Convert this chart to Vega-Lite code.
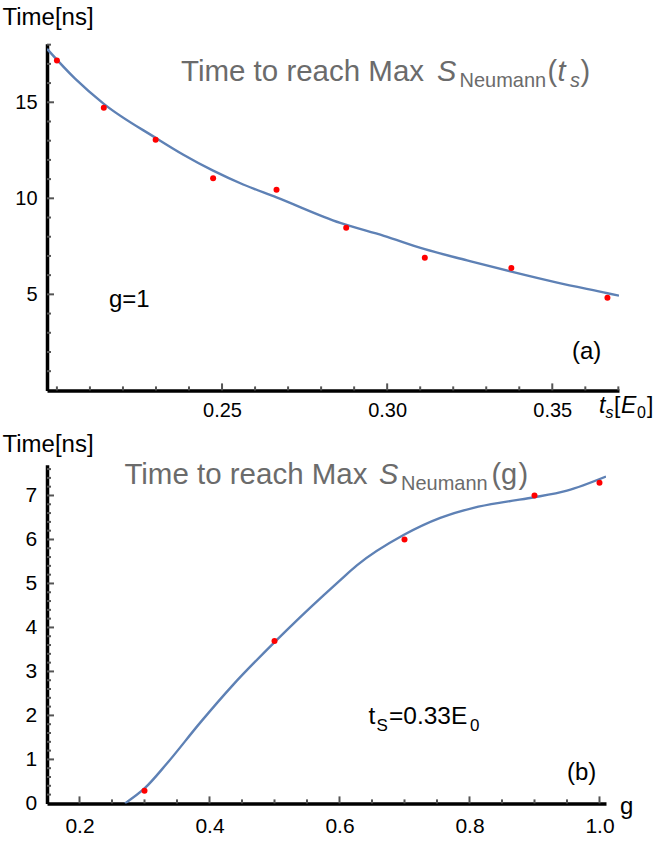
{
  "$schema": "https://vega.github.io/schema/vega-lite/v6.json",
  "background": "white",
  "padding": {"left": 2, "top": 5.7, "right": 0, "bottom": 0},
  "config": {"view": {"stroke": null}, "font": "Liberation Sans", "axis": {"grid": false, "domainWidth": 3.5, "domainColor": "black"}},
  "datasets": {
    "pointsA": [
      {"t": 0.2, "time": 17.18}, {"t": 0.2142, "time": 14.71}, {"t": 0.2299, "time": 13.05},
      {"t": 0.2473, "time": 11.04}, {"t": 0.2665, "time": 10.44}, {"t": 0.2876, "time": 8.47},
      {"t": 0.3114, "time": 6.91}, {"t": 0.3376, "time": 6.37}, {"t": 0.3667, "time": 4.82}
    ],
    "curveA": [
      {"t": 0.197, "time": 17.78}, {"t": 0.2055, "time": 16.23}, {"t": 0.2142, "time": 14.92},
      {"t": 0.2299, "time": 13.15}, {"t": 0.2383, "time": 12.27}, {"t": 0.2473, "time": 11.44},
      {"t": 0.2564, "time": 10.72}, {"t": 0.2665, "time": 10.05}, {"t": 0.2858, "time": 8.72},
      {"t": 0.299, "time": 8.05}, {"t": 0.3114, "time": 7.35}, {"t": 0.3242, "time": 6.77},
      {"t": 0.3376, "time": 6.18}, {"t": 0.3515, "time": 5.61}, {"t": 0.3667, "time": 5.06},
      {"t": 0.3702, "time": 4.93}
    ],
    "pointsB": [
      {"g": 0.3, "time": 0.29}, {"g": 0.5, "time": 3.69}, {"g": 0.7, "time": 6.0},
      {"g": 0.9, "time": 7.0}, {"g": 1.0, "time": 7.29}
    ],
    "curveB": [
      {"g": 0.27, "time": 0}, {"g": 0.3008, "time": 0.35}, {"g": 0.3341, "time": 0.9},
      {"g": 0.3854, "time": 1.83}, {"g": 0.4366, "time": 2.7}, {"g": 0.4997, "time": 3.66},
      {"g": 0.5392, "time": 4.23}, {"g": 0.5754, "time": 4.73}, {"g": 0.6008, "time": 5.07},
      {"g": 0.6267, "time": 5.41}, {"g": 0.6985, "time": 6.1}, {"g": 0.755, "time": 6.49},
      {"g": 0.8062, "time": 6.72}, {"g": 0.8574, "time": 6.86}, {"g": 0.9, "time": 6.96},
      {"g": 0.95, "time": 7.11}, {"g": 1.01, "time": 7.43}
    ],
    "ticksAxMinor": [{"v": 0.2}, {"v": 0.21}, {"v": 0.22}, {"v": 0.23}, {"v": 0.24}, {"v": 0.26}, {"v": 0.27}, {"v": 0.28}, {"v": 0.29}, {"v": 0.31}, {"v": 0.32}, {"v": 0.33}, {"v": 0.34}, {"v": 0.36}, {"v": 0.37}],
    "ticksAxMajor": [{"v": 0.25}, {"v": 0.3}, {"v": 0.35}],
    "ticksAyMinor": [{"v": 1}, {"v": 2}, {"v": 3}, {"v": 4}, {"v": 6}, {"v": 7}, {"v": 8}, {"v": 9}, {"v": 11}, {"v": 12}, {"v": 13}, {"v": 14}, {"v": 16}, {"v": 17}, {"v": 18}],
    "ticksAyMajor": [{"v": 5}, {"v": 10}, {"v": 15}],
    "ticksBxMinor": [{"v": 0.25}, {"v": 0.3}, {"v": 0.35}, {"v": 0.45}, {"v": 0.5}, {"v": 0.55}, {"v": 0.65}, {"v": 0.7}, {"v": 0.75}, {"v": 0.85}, {"v": 0.9}, {"v": 0.95}],
    "ticksBxMajor": [{"v": 0.2}, {"v": 0.4}, {"v": 0.6}, {"v": 0.8}, {"v": 1.0}],
    "ticksByMinor": [{"v": 0.2}, {"v": 0.4}, {"v": 0.6}, {"v": 0.8}, {"v": 1.2}, {"v": 1.4}, {"v": 1.6}, {"v": 1.8}, {"v": 2.2}, {"v": 2.4}, {"v": 2.6}, {"v": 2.8}, {"v": 3.2}, {"v": 3.4}, {"v": 3.6}, {"v": 3.8}, {"v": 4.2}, {"v": 4.4}, {"v": 4.6}, {"v": 4.8}, {"v": 5.2}, {"v": 5.4}, {"v": 5.6}, {"v": 5.8}, {"v": 6.2}, {"v": 6.4}, {"v": 6.6}, {"v": 6.8}, {"v": 7.2}, {"v": 7.4}, {"v": 7.6}],
    "ticksByMajor": [{"v": 1}, {"v": 2}, {"v": 3}, {"v": 4}, {"v": 5}, {"v": 6}, {"v": 7}]
  },
  "bounds": "flush",
  "spacing": 74,
  "vconcat": [
    {
      "width": 572,
      "height": 346.7,
      "resolve": {"axis": {"x": "independent", "y": "independent"}},
      "layer": [
        {
          "data": {"name": "curveA"},
          "mark": {"type": "line", "interpolate": "monotone", "color": "#5E81B5", "strokeWidth": 2.4, "clip": true},
          "encoding": {
            "x": {"field": "t", "type": "quantitative",
              "scale": {"domain": [0.197, 0.3702], "nice": false, "zero": false},
              "axis": {
                "orient": "bottom", "values": [0.25, 0.3, 0.35], "format": ".2f",
                "ticks": false, "tickSize": 0,
                "domain": true, "domainColor": "black", "domainWidth": 3.5,
                "labelPadding": 10, "labelFontSize": 20, "labelFont": "Liberation Sans", "labelColor": "black",
                "labelOverlap": false, "labelFlush": false, "labelBound": false,
                "title": null, "grid": false
              }
            },
            "y": {"field": "time", "type": "quantitative",
              "scale": {"domain": [0, 18.05], "nice": false, "zero": false},
              "axis": {
                "orient": "left", "values": [5, 10, 15], "format": "d",
                "ticks": false, "tickSize": 0,
                "domain": true, "domainColor": "black", "domainWidth": 3.5,
                "labelPadding": 10, "labelFontSize": 20, "labelFont": "Liberation Sans", "labelColor": "black",
                "labelOverlap": false, "labelFlush": false, "labelBound": false,
                "title": "Time[ns]", "titleAngle": 0, "titleAlign": "left", "titleBaseline": "top",
                "titleX": -45, "titleY": -37.8, "titleFontSize": 24, "titleFontWeight": "normal",
                "titleFont": "Liberation Sans", "titleColor": "black", "grid": false
              }
            }
          }
        },
        {"data": {"name": "ticksAyMinor"}, "mark": {"type": "tick", "orient": "horizontal", "size": 4, "thickness": 2, "color": "#555555", "opacity": 1, "xOffset": 2},
          "encoding": {"x": {"datum": 0.197, "type": "quantitative", "scale": {"domain": [0.197, 0.3702], "nice": false, "zero": false}, "axis": null},
                       "y": {"field": "v", "type": "quantitative", "scale": {"domain": [0, 18.05], "nice": false, "zero": false}, "axis": null}}},
        {"data": {"name": "ticksAyMajor"}, "mark": {"type": "tick", "orient": "horizontal", "size": 7, "thickness": 2, "color": "#555555", "opacity": 1, "xOffset": 3.5},
          "encoding": {"x": {"datum": 0.197, "type": "quantitative", "scale": {"domain": [0.197, 0.3702], "nice": false, "zero": false}, "axis": null},
                       "y": {"field": "v", "type": "quantitative", "scale": {"domain": [0, 18.05], "nice": false, "zero": false}, "axis": null}}},
        {"data": {"name": "ticksAxMinor"}, "mark": {"type": "tick", "orient": "vertical", "size": 4, "thickness": 2, "color": "#555555", "opacity": 1, "yOffset": -2},
          "encoding": {"x": {"field": "v", "type": "quantitative", "scale": {"domain": [0.197, 0.3702], "nice": false, "zero": false}, "axis": null},
                       "y": {"datum": 0, "type": "quantitative", "scale": {"domain": [0, 18.05], "nice": false, "zero": false}, "axis": null}}},
        {"data": {"name": "ticksAxMajor"}, "mark": {"type": "tick", "orient": "vertical", "size": 7, "thickness": 2, "color": "#555555", "opacity": 1, "yOffset": -3.5},
          "encoding": {"x": {"field": "v", "type": "quantitative", "scale": {"domain": [0.197, 0.3702], "nice": false, "zero": false}, "axis": null},
                       "y": {"datum": 0, "type": "quantitative", "scale": {"domain": [0, 18.05], "nice": false, "zero": false}, "axis": null}}},
        {
          "data": {"name": "pointsA"},
          "mark": {"type": "point", "filled": true, "color": "#FF0000", "size": 36, "opacity": 1},
          "encoding": {
            "x": {"field": "t", "type": "quantitative", "scale": {"domain": [0.197, 0.3702], "nice": false, "zero": false}, "axis": null},
            "y": {"field": "time", "type": "quantitative", "scale": {"domain": [0, 18.05], "nice": false, "zero": false}, "axis": null}
          }
        },
        {"data": {"values": [{}]}, "mark": {"type": "text", "text": "Time to reach Max", "align": "left", "baseline": "alphabetic", "fontSize": 29.5, "color": "#6b6b6b"},
          "encoding": {"x": {"datum": 0.23757, "type": "quantitative", "scale": {"domain": [0.197, 0.3702], "nice": false, "zero": false}, "axis": null},
                       "y": {"datum": 16.113, "type": "quantitative", "scale": {"domain": [0, 18.05], "nice": false, "zero": false}, "axis": null}}},
        {"data": {"values": [{}]}, "mark": {"type": "text", "text": "S", "align": "left", "baseline": "alphabetic", "fontSize": 29, "fontStyle": "italic", "color": "#6b6b6b"},
          "encoding": {"x": {"datum": 0.31509, "type": "quantitative", "scale": {"domain": [0.197, 0.3702], "nice": false, "zero": false}, "axis": null},
                       "y": {"datum": 16.113, "type": "quantitative", "scale": {"domain": [0, 18.05], "nice": false, "zero": false}, "axis": null}}},
        {"data": {"values": [{}]}, "mark": {"type": "text", "text": "Neumann", "align": "left", "baseline": "alphabetic", "fontSize": 20, "color": "#6b6b6b"},
          "encoding": {"x": {"datum": 0.32191, "type": "quantitative", "scale": {"domain": [0.197, 0.3702], "nice": false, "zero": false}, "axis": null},
                       "y": {"datum": 15.801, "type": "quantitative", "scale": {"domain": [0, 18.05], "nice": false, "zero": false}, "axis": null}}},
        {"data": {"values": [{}]}, "mark": {"type": "text", "text": "(", "align": "left", "baseline": "alphabetic", "fontSize": 29, "color": "#6b6b6b"},
          "encoding": {"x": {"datum": 0.34855, "type": "quantitative", "scale": {"domain": [0.197, 0.3702], "nice": false, "zero": false}, "axis": null},
                       "y": {"datum": 16.113, "type": "quantitative", "scale": {"domain": [0, 18.05], "nice": false, "zero": false}, "axis": null}}},
        {"data": {"values": [{}]}, "mark": {"type": "text", "text": "t", "align": "left", "baseline": "alphabetic", "fontSize": 29, "fontStyle": "italic", "color": "#6b6b6b"},
          "encoding": {"x": {"datum": 0.35158, "type": "quantitative", "scale": {"domain": [0.197, 0.3702], "nice": false, "zero": false}, "axis": null},
                       "y": {"datum": 16.113, "type": "quantitative", "scale": {"domain": [0, 18.05], "nice": false, "zero": false}, "axis": null}}},
        {"data": {"values": [{}]}, "mark": {"type": "text", "text": "s", "align": "left", "baseline": "alphabetic", "fontSize": 20, "fontStyle": "italic", "color": "#6b6b6b"},
          "encoding": {"x": {"datum": 0.35537, "type": "quantitative", "scale": {"domain": [0.197, 0.3702], "nice": false, "zero": false}, "axis": null},
                       "y": {"datum": 15.801, "type": "quantitative", "scale": {"domain": [0, 18.05], "nice": false, "zero": false}, "axis": null}}},
        {"data": {"values": [{}]}, "mark": {"type": "text", "text": ")", "align": "left", "baseline": "alphabetic", "fontSize": 29, "color": "#6b6b6b"},
          "encoding": {"x": {"datum": 0.35854, "type": "quantitative", "scale": {"domain": [0.197, 0.3702], "nice": false, "zero": false}, "axis": null},
                       "y": {"datum": 16.113, "type": "quantitative", "scale": {"domain": [0, 18.05], "nice": false, "zero": false}, "axis": null}}},
        {"data": {"values": [{}]}, "mark": {"type": "text", "text": "g=1", "align": "left", "baseline": "alphabetic", "fontSize": 24, "color": "black"},
          "encoding": {"x": {"datum": 0.21577, "type": "quantitative", "scale": {"domain": [0.197, 0.3702], "nice": false, "zero": false}, "axis": null},
                       "y": {"datum": 4.347, "type": "quantitative", "scale": {"domain": [0, 18.05], "nice": false, "zero": false}, "axis": null}}},
        {"data": {"values": [{}]}, "mark": {"type": "text", "text": "(a)", "align": "left", "baseline": "alphabetic", "fontSize": 24, "color": "black"},
          "encoding": {"x": {"datum": 0.35597, "type": "quantitative", "scale": {"domain": [0.197, 0.3702], "nice": false, "zero": false}, "axis": null},
                       "y": {"datum": 1.624, "type": "quantitative", "scale": {"domain": [0, 18.05], "nice": false, "zero": false}, "axis": null}}},
        {"data": {"values": [{}]}, "mark": {"type": "text", "text": "t", "align": "left", "baseline": "alphabetic", "fontSize": 23, "fontStyle": "italic", "color": "black"},
          "encoding": {"x": {"datum": 0.36414, "type": "quantitative", "scale": {"domain": [0.197, 0.3702], "nice": false, "zero": false}, "axis": null},
                       "y": {"datum": -1.187, "type": "quantitative", "scale": {"domain": [0, 18.05], "nice": false, "zero": false}, "axis": null}}},
        {"data": {"values": [{}]}, "mark": {"type": "text", "text": "s", "align": "left", "baseline": "alphabetic", "fontSize": 16, "fontStyle": "italic", "color": "black"},
          "encoding": {"x": {"datum": 0.36611, "type": "quantitative", "scale": {"domain": [0.197, 0.3702], "nice": false, "zero": false}, "axis": null},
                       "y": {"datum": -1.447, "type": "quantitative", "scale": {"domain": [0, 18.05], "nice": false, "zero": false}, "axis": null}}},
        {"data": {"values": [{}]}, "mark": {"type": "text", "text": "[", "align": "left", "baseline": "alphabetic", "fontSize": 23, "color": "black"},
          "encoding": {"x": {"datum": 0.36869, "type": "quantitative", "scale": {"domain": [0.197, 0.3702], "nice": false, "zero": false}, "axis": null},
                       "y": {"datum": -1.187, "type": "quantitative", "scale": {"domain": [0, 18.05], "nice": false, "zero": false}, "axis": null}}},
        {"data": {"values": [{}]}, "mark": {"type": "text", "text": "E", "align": "left", "baseline": "alphabetic", "fontSize": 23, "fontStyle": "italic", "color": "black"},
          "encoding": {"x": {"datum": 0.37081, "type": "quantitative", "scale": {"domain": [0.197, 0.3702], "nice": false, "zero": false}, "axis": null},
                       "y": {"datum": -1.187, "type": "quantitative", "scale": {"domain": [0, 18.05], "nice": false, "zero": false}, "axis": null}}},
        {"data": {"values": [{}]}, "mark": {"type": "text", "text": "0", "align": "left", "baseline": "alphabetic", "fontSize": 16, "color": "black"},
          "encoding": {"x": {"datum": 0.37565, "type": "quantitative", "scale": {"domain": [0.197, 0.3702], "nice": false, "zero": false}, "axis": null},
                       "y": {"datum": -1.447, "type": "quantitative", "scale": {"domain": [0, 18.05], "nice": false, "zero": false}, "axis": null}}},
        {"data": {"values": [{}]}, "mark": {"type": "text", "text": "]", "align": "left", "baseline": "alphabetic", "fontSize": 23, "color": "black"},
          "encoding": {"x": {"datum": 0.37868, "type": "quantitative", "scale": {"domain": [0.197, 0.3702], "nice": false, "zero": false}, "axis": null},
                       "y": {"datum": -1.187, "type": "quantitative", "scale": {"domain": [0, 18.05], "nice": false, "zero": false}, "axis": null}}}
      ]
    },
    {
      "width": 559,
      "height": 338.7,
      "resolve": {"axis": {"x": "independent", "y": "independent"}},
      "layer": [
        {
          "data": {"name": "curveB"},
          "mark": {"type": "line", "interpolate": "monotone", "color": "#5E81B5", "strokeWidth": 2.4, "clip": true},
          "encoding": {
            "x": {"field": "g", "type": "quantitative",
              "scale": {"domain": [0.15, 1.01], "nice": false, "zero": false},
              "axis": {
                "orient": "bottom", "values": [0.2, 0.4, 0.6, 0.8, 1], "format": ".1f",
                "ticks": false, "tickSize": 0,
                "domain": true, "domainColor": "black", "domainWidth": 3.5,
                "labelPadding": 12.5, "labelFontSize": 21, "labelFont": "Liberation Sans", "labelColor": "black",
                "labelOverlap": false, "labelFlush": false, "labelBound": false,
                "title": null, "grid": false
              }
            },
            "y": {"field": "time", "type": "quantitative",
              "scale": {"domain": [0, 7.7], "nice": false, "zero": false},
              "axis": {
                "orient": "left", "values": [0, 1, 2, 3, 4, 5, 6, 7], "format": "d",
                "ticks": false, "tickSize": 0,
                "domain": true, "domainColor": "black", "domainWidth": 3.5,
                "labelPadding": 10.4, "labelFontSize": 21, "labelFont": "Liberation Sans", "labelColor": "black",
                "labelOverlap": false, "labelFlush": false, "labelBound": false,
                "title": "Time[ns]", "titleAngle": 0, "titleAlign": "left", "titleBaseline": "top",
                "titleX": -45, "titleY": -32, "titleFontSize": 24, "titleFontWeight": "normal",
                "titleFont": "Liberation Sans", "titleColor": "black", "grid": false
              }
            }
          }
        },
        {"data": {"name": "ticksByMinor"}, "mark": {"type": "tick", "orient": "horizontal", "size": 4, "thickness": 2, "color": "#555555", "opacity": 1, "xOffset": 2},
          "encoding": {"x": {"datum": 0.15, "type": "quantitative", "scale": {"domain": [0.15, 1.01], "nice": false, "zero": false}, "axis": null},
                       "y": {"field": "v", "type": "quantitative", "scale": {"domain": [0, 7.7], "nice": false, "zero": false}, "axis": null}}},
        {"data": {"name": "ticksByMajor"}, "mark": {"type": "tick", "orient": "horizontal", "size": 7, "thickness": 2, "color": "#555555", "opacity": 1, "xOffset": 3.5},
          "encoding": {"x": {"datum": 0.15, "type": "quantitative", "scale": {"domain": [0.15, 1.01], "nice": false, "zero": false}, "axis": null},
                       "y": {"field": "v", "type": "quantitative", "scale": {"domain": [0, 7.7], "nice": false, "zero": false}, "axis": null}}},
        {"data": {"name": "ticksBxMinor"}, "mark": {"type": "tick", "orient": "vertical", "size": 4, "thickness": 2, "color": "#555555", "opacity": 1, "yOffset": -2},
          "encoding": {"x": {"field": "v", "type": "quantitative", "scale": {"domain": [0.15, 1.01], "nice": false, "zero": false}, "axis": null},
                       "y": {"datum": 0, "type": "quantitative", "scale": {"domain": [0, 7.7], "nice": false, "zero": false}, "axis": null}}},
        {"data": {"name": "ticksBxMajor"}, "mark": {"type": "tick", "orient": "vertical", "size": 7, "thickness": 2, "color": "#555555", "opacity": 1, "yOffset": -3.5},
          "encoding": {"x": {"field": "v", "type": "quantitative", "scale": {"domain": [0.15, 1.01], "nice": false, "zero": false}, "axis": null},
                       "y": {"datum": 0, "type": "quantitative", "scale": {"domain": [0, 7.7], "nice": false, "zero": false}, "axis": null}}},
        {
          "data": {"name": "pointsB"},
          "mark": {"type": "point", "filled": true, "color": "#FF0000", "size": 36, "opacity": 1},
          "encoding": {
            "x": {"field": "g", "type": "quantitative", "scale": {"domain": [0.15, 1.01], "nice": false, "zero": false}, "axis": null},
            "y": {"field": "time", "type": "quantitative", "scale": {"domain": [0, 7.7], "nice": false, "zero": false}, "axis": null}
          }
        },
        {"data": {"values": [{}]}, "mark": {"type": "text", "text": "Time to reach Max", "align": "left", "baseline": "alphabetic", "fontSize": 29.5, "color": "#6b6b6b"},
          "encoding": {"x": {"datum": 0.26908, "type": "quantitative", "scale": {"domain": [0.15, 1.01], "nice": false, "zero": false}, "axis": null},
                       "y": {"datum": 7.266, "type": "quantitative", "scale": {"domain": [0, 7.7], "nice": false, "zero": false}, "axis": null}}},
        {"data": {"values": [{}]}, "mark": {"type": "text", "text": "S", "align": "left", "baseline": "alphabetic", "fontSize": 29, "fontStyle": "italic", "color": "#6b6b6b"},
          "encoding": {"x": {"datum": 0.66077, "type": "quantitative", "scale": {"domain": [0.15, 1.01], "nice": false, "zero": false}, "axis": null},
                       "y": {"datum": 7.266, "type": "quantitative", "scale": {"domain": [0, 7.7], "nice": false, "zero": false}, "axis": null}}},
        {"data": {"values": [{}]}, "mark": {"type": "text", "text": "Neumann", "align": "left", "baseline": "alphabetic", "fontSize": 20, "color": "#6b6b6b"},
          "encoding": {"x": {"datum": 0.69462, "type": "quantitative", "scale": {"domain": [0.15, 1.01], "nice": false, "zero": false}, "axis": null},
                       "y": {"datum": 7.125, "type": "quantitative", "scale": {"domain": [0, 7.7], "nice": false, "zero": false}, "axis": null}}},
        {"data": {"values": [{}]}, "mark": {"type": "text", "text": "(", "align": "left", "baseline": "alphabetic", "fontSize": 29, "color": "#6b6b6b"},
          "encoding": {"x": {"datum": 0.83385, "type": "quantitative", "scale": {"domain": [0.15, 1.01], "nice": false, "zero": false}, "axis": null},
                       "y": {"datum": 7.266, "type": "quantitative", "scale": {"domain": [0, 7.7], "nice": false, "zero": false}, "axis": null}}},
        {"data": {"values": [{}]}, "mark": {"type": "text", "text": "g", "align": "left", "baseline": "alphabetic", "fontSize": 29, "color": "#6b6b6b"},
          "encoding": {"x": {"datum": 0.84846, "type": "quantitative", "scale": {"domain": [0.15, 1.01], "nice": false, "zero": false}, "axis": null},
                       "y": {"datum": 7.266, "type": "quantitative", "scale": {"domain": [0, 7.7], "nice": false, "zero": false}, "axis": null}}},
        {"data": {"values": [{}]}, "mark": {"type": "text", "text": ")", "align": "left", "baseline": "alphabetic", "fontSize": 29, "color": "#6b6b6b"},
          "encoding": {"x": {"datum": 0.87538, "type": "quantitative", "scale": {"domain": [0.15, 1.01], "nice": false, "zero": false}, "axis": null},
                       "y": {"datum": 7.266, "type": "quantitative", "scale": {"domain": [0, 7.7], "nice": false, "zero": false}, "axis": null}}},
        {"data": {"values": [{}]}, "mark": {"type": "text", "text": "t", "align": "left", "baseline": "alphabetic", "fontSize": 24.5, "color": "black"},
          "encoding": {"x": {"datum": 0.64462, "type": "quantitative", "scale": {"domain": [0.15, 1.01], "nice": false, "zero": false}, "axis": null},
                       "y": {"datum": 1.81, "type": "quantitative", "scale": {"domain": [0, 7.7], "nice": false, "zero": false}, "axis": null}}},
        {"data": {"values": [{}]}, "mark": {"type": "text", "text": "S", "align": "left", "baseline": "alphabetic", "fontSize": 17, "color": "black"},
          "encoding": {"x": {"datum": 0.65692, "type": "quantitative", "scale": {"domain": [0.15, 1.01], "nice": false, "zero": false}, "axis": null},
                       "y": {"datum": 1.657, "type": "quantitative", "scale": {"domain": [0, 7.7], "nice": false, "zero": false}, "axis": null}}},
        {"data": {"values": [{}]}, "mark": {"type": "text", "text": "=0.33E", "align": "left", "baseline": "alphabetic", "fontSize": 24.5, "color": "black"},
          "encoding": {"x": {"datum": 0.67615, "type": "quantitative", "scale": {"domain": [0.15, 1.01], "nice": false, "zero": false}, "axis": null},
                       "y": {"datum": 1.81, "type": "quantitative", "scale": {"domain": [0, 7.7], "nice": false, "zero": false}, "axis": null}}},
        {"data": {"values": [{}]}, "mark": {"type": "text", "text": "0", "align": "left", "baseline": "alphabetic", "fontSize": 17, "color": "black"},
          "encoding": {"x": {"datum": 0.80077, "type": "quantitative", "scale": {"domain": [0.15, 1.01], "nice": false, "zero": false}, "axis": null},
                       "y": {"datum": 1.657, "type": "quantitative", "scale": {"domain": [0, 7.7], "nice": false, "zero": false}, "axis": null}}},
        {"data": {"values": [{}]}, "mark": {"type": "text", "text": "(b)", "align": "left", "baseline": "alphabetic", "fontSize": 24, "color": "black"},
          "encoding": {"x": {"datum": 0.95, "type": "quantitative", "scale": {"domain": [0.15, 1.01], "nice": false, "zero": false}, "axis": null},
                       "y": {"datum": 0.521, "type": "quantitative", "scale": {"domain": [0, 7.7], "nice": false, "zero": false}, "axis": null}}},
        {"data": {"values": [{}]}, "mark": {"type": "text", "text": "g", "align": "left", "baseline": "alphabetic", "fontSize": 24, "color": "black"},
          "encoding": {"x": {"datum": 1.03154, "type": "quantitative", "scale": {"domain": [0.15, 1.01], "nice": false, "zero": false}, "axis": null},
                       "y": {"datum": -0.23, "type": "quantitative", "scale": {"domain": [0, 7.7], "nice": false, "zero": false}, "axis": null}}}
      ]
    }
  ]
}
